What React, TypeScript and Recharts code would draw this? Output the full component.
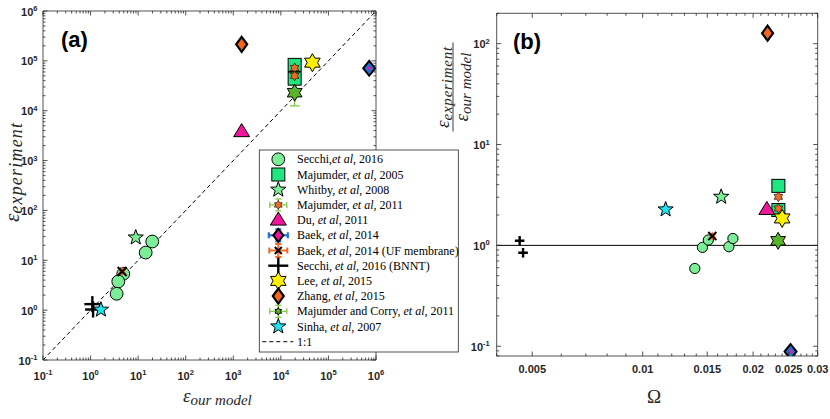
import React from 'react';
import { ScatterChart, Scatter, XAxis, YAxis, ReferenceLine, ErrorBar } from 'recharts';

// ---------- Panel (a): eps_experiment vs eps_our_model ----------
const secchiA = [{ x: 19.8, y: 23.8 }, { x: 14.4, y: 14.3 }, { x: 4.87, y: 5.36 }, { x: 3.82, y: 3.76 }, { x: 3.53, y: 2.13 }];
const majumder2005A = [{ x: 1.95e4, y: 8.3e4 }, { x: 1.95e4, y: 4.4e4 }];
const whitbyA = [{ x: 8.9, y: 28.6 }];
const majumder2011A = [{ x: 1.95e4, y: 7.2e4, ey: [2.2e4, 2.2e4] }, { x: 1.95e4, y: 5.0e4, ey: [1.5e4, 1.5e4] }];
const duA = [{ x: 1500, y: 3800 }];
const baekA = [{ x: 7.2e5, y: 7.1e4 }];
const baekUFA = [{ x: 4.6, y: 5.97 }];
const bnntA = [{ x: 1.09, y: 1.32 }, { x: 1.13, y: 1.03 }];
const leeA = [{ x: 4.6e4, y: 9.2e4 }];
const zhangA = [{ x: 1500, y: 2.15e5 }];
const corryA = [{ x: 1.95e4, y: 2.3e4, ey: [1.05e4, 1.0e4] }];
const sinhaA = [{ x: 1.65, y: 1.02 }];
const oneToOne = [{ x: 0.1, y: 0.1 }, { x: 1e6, y: 1e6 }];

// ---------- Panel (b): ratio vs Omega ----------
const secchiB = [{ x: 0.01455, y: 0.955 }, { x: 0.0151, y: 1.13 }, { x: 0.01387, y: 0.59 }, { x: 0.01718, y: 0.97 }, { x: 0.01762, y: 1.17 }];
const majumder2005B = [{ x: 0.02344, y: 3.89 }, { x: 0.02344, y: 2.24 }];
const whitbyB = [{ x: 0.01637, y: 3.03 }];
const majumder2011B = [{ x: 0.02344, y: 3.03 }, { x: 0.02344, y: 2.32 }];
const duB = [{ x: 0.0218, y: 2.27 }];
const baekB = [{ x: 0.0253, y: 0.0885 }];
const baekUFB = [{ x: 0.01548, y: 1.236 }];
const bnntB = [{ x: 0.00462, y: 1.11 }, { x: 0.00472, y: 0.845 }];
const leeB = [{ x: 0.024, y: 1.85 }];
const zhangB = [{ x: 0.0219, y: 127 }];
const corryB = [{ x: 0.0234, y: 1.11 }];
const sinhaB = [{ x: 0.01155, y: 2.27 }];

// ---------- ticks ----------
const decadesA = [0.1, 1, 10, 100, 1e3, 1e4, 1e5, 1e6];
const decadesBy = [0.1, 1, 10, 100];
const omegaMajor = [0.005, 0.01, 0.015, 0.02, 0.025, 0.03];
const omegaLabels = ['0.005', '0.01', '0.015', '0.02', '0.025', '0.03'];
const minorMult = [2, 3, 4, 5, 6, 7, 8, 9];

const logTicks = (decades: number[], lo: number, hi: number) => {
  const out: number[] = [];
  decades.forEach((d) => {
    out.push(d);
    minorMult.forEach((m) => out.push(d * m));
  });
  [decades[0] / 10].forEach((d) => minorMult.forEach((m) => out.push(d * m)));
  return out.filter((v) => v >= lo * 0.9999 && v <= hi * 1.0001).sort((a, b) => a - b);
};
const ticksA = logTicks(decadesA, 0.1, 1e6);
const ticksBy = logTicks(decadesBy, 0.08, 200);
const ticksBx = Array.from({ length: 27 }, (_, i) => (4 + i) / 1000);

const AX = '#262626';
const isDecade = (v: number) => Math.abs(Math.log10(v) - Math.round(Math.log10(v))) < 1e-6;
const isOmegaMajor = (v: number) => omegaMajor.some((m) => Math.abs(m - v) < 1e-7);

const SANS = "'Liberation Sans', Arial, sans-serif";
const SERIF = "'Liberation Serif', 'Times New Roman', serif";
const TF = { fontFamily: SANS, fontWeight: 700, fontSize: 11, fill: AX };

const powLabel = (v: number, x: number, y: number, anchor: 'middle' | 'end') => (
  <text x={x} y={y} textAnchor={anchor} {...TF}>
    <tspan>10</tspan>
    <tspan dy={-4.5} fontSize={7.5}>{String(Math.round(Math.log10(v)))}</tspan>
  </text>
);

const makeTick = (side: string, isMajor: (v: number) => boolean, labeler: ((v: number, x: number, y: number) => React.ReactNode) | null) =>
  (props: any) => {
    const { x, y, payload } = props;
    const v = payload.value;
    const major = isMajor(v);
    const len = major ? 4.5 : 2.5;
    let line;
    if (side === 'bottom') line = <line x1={x} y1={y} x2={x} y2={y - len} stroke={AX} strokeWidth={0.8} />;
    else if (side === 'top') line = <line x1={x} y1={y} x2={x} y2={y + len} stroke={AX} strokeWidth={0.8} />;
    else if (side === 'left') line = <line x1={x} y1={y} x2={x + len} y2={y} stroke={AX} strokeWidth={0.8} />;
    else line = <line x1={x} y1={y} x2={x - len} y2={y} stroke={AX} strokeWidth={0.8} />;
    return (
      <g>
        {line}
        {major && labeler ? labeler(v, x, y) : null}
      </g>
    );
  };

const tickABottom = makeTick('bottom', isDecade, (v, x, y) => powLabel(v, x, y + 19.5, 'middle'));
const tickATop = makeTick('top', isDecade, null);
const tickALeft = makeTick('left', isDecade, (v, x, y) => powLabel(v, x - 5.5, y + 4.5, 'end'));
const tickARight = makeTick('right', isDecade, null);
const tickBBottom = makeTick('bottom', isOmegaMajor, (v, x, y) => {
  const i = omegaMajor.findIndex((m) => Math.abs(m - v) < 1e-7);
  return <text x={x} y={y + 17} textAnchor="middle" {...TF}>{omegaLabels[i]}</text>;
});
const tickBTop = makeTick('top', isOmegaMajor, null);
const tickBLeft = makeTick('left', isDecade, (v, x, y) => powLabel(v, x - 7, y + 4.5, 'end'));
const tickBRight = makeTick('right', isDecade, null);

// ---------- markers ----------
const C = {
  lightGreen: '#7DEE98',
  green: '#1FE67F',
  orange: '#EE6A25',
  errGreen: '#7CC23E',
  magenta: '#F0169A',
  blue: '#1E74D4',
  yellow: '#FFF000',
  zhang: '#F2661E',
  corry: '#5AB42A',
  cyan: '#1EE3F0',
};

const starPts = (cx: number, cy: number, R: number, r: number, n: number) => {
  const pts: string[] = [];
  for (let i = 0; i < 2 * n; i++) {
    const a = (-90 + (i * 180) / n) * (Math.PI / 180);
    const rad = i % 2 === 0 ? R : r;
    pts.push(`${cx + rad * Math.cos(a)},${cy + rad * Math.sin(a)}`);
  }
  return pts.join(' ');
};

const marker = (kind: string, cx: number, cy: number, k = 1): React.ReactElement => {
  switch (kind) {
    case 'circle':
      return <circle cx={cx} cy={cy} r={6.4 * k} fill={C.lightGreen} stroke="#000" strokeWidth={1} />;
    case 'square': {
      const s = 6.5 * k;
      return <rect x={cx - s} y={cy - s} width={2 * s} height={2 * s} fill={C.green} stroke="#000" strokeWidth={1} />;
    }
    case 'whitby':
      return <polygon points={starPts(cx, cy, 8 * k, 3.3 * k, 5)} fill={C.lightGreen} stroke="#000" strokeWidth={1} />;
    case 'm2011':
      return <polygon points={starPts(cx, cy, 5 * k, 2.9 * k, 6)} fill={C.orange} stroke="#000" strokeWidth={0.6} />;
    case 'du': {
      const w = 8 * k, h = 13 * k;
      return <polygon points={`${cx - w},${cy + h / 2.6} ${cx + w},${cy + h / 2.6} ${cx},${cy - h * 0.62}`} fill={C.magenta} stroke="#000" strokeWidth={1} />;
    }
    case 'baek': {
      const w = 6 * k, h = 7.5 * k;
      return (
        <g>
          <polygon points={`${cx},${cy - h} ${cx + w},${cy} ${cx},${cy + h} ${cx - w},${cy}`} fill={C.blue} stroke="#000" strokeWidth={2} />
          <polygon points={`${cx},${cy - 2.5} ${cx + 2},${cy} ${cx},${cy + 2.5} ${cx - 2},${cy}`} fill={C.magenta} />
        </g>
      );
    }
    case 'baekUF': {
      const s = 4.5 * k;
      return (
        <g>
          <polygon points={starPts(cx, cy, 5 * k, 2.9 * k, 6)} fill={C.orange} />
          <line x1={cx - s} y1={cy - s} x2={cx + s} y2={cy + s} stroke="#000" strokeWidth={2} />
          <line x1={cx - s} y1={cy + s} x2={cx + s} y2={cy - s} stroke="#000" strokeWidth={2} />
        </g>
      );
    }
    case 'bnnt': {
      const s = 8 * k;
      return (
        <g>
          <line x1={cx - s} y1={cy} x2={cx + s} y2={cy} stroke="#000" strokeWidth={2.4} />
          <line x1={cx} y1={cy - s} x2={cx} y2={cy + s} stroke="#000" strokeWidth={2.4} />
        </g>
      );
    }
    case 'lee':
      return <polygon points={starPts(cx, cy, 9 * k, 5.2 * k, 6)} fill={C.yellow} stroke="#000" strokeWidth={1} />;
    case 'zhang': {
      const w = 5.5 * k, h = 7.5 * k;
      return <polygon points={`${cx},${cy - h} ${cx + w},${cy} ${cx},${cy + h} ${cx - w},${cy}`} fill={C.zhang} stroke="#000" strokeWidth={2.2} />;
    }
    case 'corry':
      return <polygon points={starPts(cx, cy, 8.5 * k, 4.9 * k, 6)} fill={C.corry} stroke="#000" strokeWidth={1} />;
    case 'sinha':
      return <polygon points={starPts(cx, cy, 8 * k, 3.3 * k, 5)} fill={C.cyan} stroke="#000" strokeWidth={1} />;
    default:
      return <g />;
  }
};

const shape = (kind: string, k = 1) => (p: any) => marker(kind, p.cx, p.cy, k);

const axisLine = { stroke: AX, strokeWidth: 0.8 };
const commonAxis = {
  type: 'number' as const,
  scale: 'log' as const,
  allowDataOverflow: true,
  interval: 0 as const,
  tickSize: 0,
  tickMargin: 0,
  tickLine: false,
  axisLine,
};

// ---------- legend ----------
const legendItems: { kind: string; parts: [string, string, string] }[] = [
  { kind: 'circle', parts: ['Secchi,', 'et al', ', 2016'] },
  { kind: 'square', parts: ['Majumder, ', 'et al', ', 2005'] },
  { kind: 'whitby', parts: ['Whitby, ', 'et al', ', 2008'] },
  { kind: 'Lm2011', parts: ['Majumder, ', 'et al', ', 2011'] },
  { kind: 'du', parts: ['Du, ', 'et al', ', 2011'] },
  { kind: 'Lbaek', parts: ['Baek, ', 'et al', ', 2014'] },
  { kind: 'LbaekUF', parts: ['Baek, ', 'et al', ', 2014 (UF membrane)'] },
  { kind: 'Lbnnt', parts: ['Secchi, ', 'et al', ', 2016 (BNNT)'] },
  { kind: 'lee', parts: ['Lee, ', 'et al', ', 2015'] },
  { kind: 'zhang', parts: ['Zhang, ', 'et al', ', 2015'] },
  { kind: 'Lcorry', parts: ['Majumder and Corry, ', 'et al', ', 2011'] },
  { kind: 'sinha', parts: ['Sinha, ', 'et al', ', 2007'] },
  { kind: 'line', parts: ['1:1', '', ''] },
];

const errCross = (cx: number, cy: number, hw: number, hh: number, color: string, sw: number) => (
  <g stroke={color} strokeWidth={sw}>
    <line x1={cx - hw} y1={cy} x2={cx + hw} y2={cy} />
    <line x1={cx - hw} y1={cy - 3} x2={cx - hw} y2={cy + 3} />
    <line x1={cx + hw} y1={cy - 3} x2={cx + hw} y2={cy + 3} />
    <line x1={cx} y1={cy - hh} x2={cx} y2={cy + hh} />
    <line x1={cx - 3} y1={cy - hh} x2={cx + 3} y2={cy - hh} />
    <line x1={cx - 3} y1={cy + hh} x2={cx + 3} y2={cy + hh} />
  </g>
);

const legendMarker = (kind: string, cx: number, cy: number) => {
  switch (kind) {
    case 'Lm2011':
      return <g>{errCross(cx, cy, 8.5, 6, C.errGreen, 1.2)}{marker('m2011', cx, cy, 0.9)}</g>;
    case 'Lbaek':
      return (
        <g>
          {errCross(cx, cy, 9.5, 6, C.blue, 2.2)}
          <polygon points={`${cx},${cy - 6.5} ${cx + 5},${cy} ${cx},${cy + 6.5} ${cx - 5},${cy}`} fill={C.magenta} stroke="#000" strokeWidth={2} />
        </g>
      );
    case 'LbaekUF':
      return (
        <g>
          {errCross(cx, cy, 9, 6.5, C.orange, 2)}
          <line x1={cx - 3.5} y1={cy - 3.5} x2={cx + 3.5} y2={cy + 3.5} stroke="#000" strokeWidth={2} />
          <line x1={cx - 3.5} y1={cy + 3.5} x2={cx + 3.5} y2={cy - 3.5} stroke="#000" strokeWidth={2} />
        </g>
      );
    case 'Lbnnt':
      return (
        <g>
          <line x1={cx - 10} y1={cy} x2={cx + 10} y2={cy} stroke="#000" strokeWidth={2.4} />
          <line x1={cx} y1={cy - 8} x2={cx} y2={cy + 8} stroke="#000" strokeWidth={2.4} />
        </g>
      );
    case 'Lcorry':
      return <g>{errCross(cx, cy, 8.5, 6, C.errGreen, 1.2)}{marker('corry', cx, cy, 0.45)}</g>;
    case 'line':
      return <line x1={cx - 16} y1={cy} x2={cx + 15} y2={cy} stroke="#000" strokeWidth={1} strokeDasharray="4 3" />;
    default:
      return marker(kind, cx, cy, 1);
  }
};

export default function App() {
  return (
    <div style={{ position: 'absolute', left: 0, top: 0, width: 830, height: 419, background: '#fff' }}>
      <div style={{ position: 'absolute', left: 0, top: 0 }}>
        <ScatterChart width={415} height={419} margin={{ top: 10, right: 38, bottom: 29, left: 0 }}>
          <XAxis xAxisId="b" dataKey="x" orientation="bottom" domain={[0.1, 1e6]} ticks={ticksA} tick={tickABottom} height={30} {...commonAxis} />
          <XAxis xAxisId="t" dataKey="x" orientation="top" domain={[0.1, 1e6]} ticks={ticksA} tick={tickATop} height={1} {...commonAxis} />
          <YAxis yAxisId="l" dataKey="y" orientation="left" domain={[0.1, 1e6]} ticks={ticksA} tick={tickALeft} width={43} {...commonAxis} />
          <YAxis yAxisId="r" dataKey="y" orientation="right" domain={[0.1, 1e6]} ticks={ticksA} tick={tickARight} width={1} {...commonAxis} />
          <Scatter xAxisId="b" yAxisId="l" data={secchiA} shape={shape('circle')} isAnimationActive={false} />
          <Scatter xAxisId="b" yAxisId="l" data={majumder2005A} shape={shape('square')} isAnimationActive={false} />
          <Scatter xAxisId="b" yAxisId="l" data={whitbyA} shape={shape('whitby')} isAnimationActive={false} />
          <Scatter xAxisId="b" yAxisId="l" data={majumder2011A} shape={shape('m2011')} isAnimationActive={false}>
            <ErrorBar dataKey="ey" direction="y" width={5} stroke={C.errGreen} strokeWidth={1.2} />
          </Scatter>
          <Scatter xAxisId="b" yAxisId="l" data={duA} shape={shape('du')} isAnimationActive={false} />
          <Scatter xAxisId="b" yAxisId="l" data={baekA} shape={shape('baek')} isAnimationActive={false} />
          <Scatter xAxisId="b" yAxisId="l" data={baekUFA} shape={shape('baekUF')} isAnimationActive={false} />
          <Scatter xAxisId="b" yAxisId="l" data={bnntA} shape={shape('bnnt')} isAnimationActive={false} />
          <Scatter xAxisId="b" yAxisId="l" data={leeA} shape={shape('lee')} isAnimationActive={false} />
          <Scatter xAxisId="b" yAxisId="l" data={zhangA} shape={shape('zhang')} isAnimationActive={false} />
          <Scatter xAxisId="b" yAxisId="l" data={corryA} shape={shape('corry')} isAnimationActive={false}>
            <ErrorBar dataKey="ey" direction="y" width={5} stroke={C.errGreen} strokeWidth={1.2} />
          </Scatter>
          <Scatter xAxisId="b" yAxisId="l" data={sinhaA} shape={shape('sinha')} isAnimationActive={false} />
          <ReferenceLine xAxisId="b" yAxisId="l" segment={oneToOne} stroke="#000" strokeWidth={1} strokeDasharray="4 3" ifOverflow="visible" />
        </ScatterChart>
      </div>
      <div style={{ position: 'absolute', left: 415, top: 0 }}>
        <ScatterChart width={415} height={419} margin={{ top: 12.3, right: 11.3, bottom: 33, left: 0 }}>
          <XAxis xAxisId="b" dataKey="x" orientation="bottom" domain={[0.004, 0.03]} ticks={ticksBx} tick={tickBBottom} height={30} {...commonAxis} />
          <XAxis xAxisId="t" dataKey="x" orientation="top" domain={[0.004, 0.03]} ticks={ticksBx} tick={tickBTop} height={1} {...commonAxis} />
          <YAxis yAxisId="l" dataKey="y" orientation="left" domain={[0.08, 200]} ticks={ticksBy} tick={tickBLeft} width={81.7} {...commonAxis} />
          <YAxis yAxisId="r" dataKey="y" orientation="right" domain={[0.08, 200]} ticks={ticksBy} tick={tickBRight} width={1} {...commonAxis} />
          <ReferenceLine xAxisId="b" yAxisId="l" y={1} stroke="#000" strokeWidth={1} />
          <Scatter xAxisId="b" yAxisId="l" data={secchiB} shape={shape('circle', 0.8)} isAnimationActive={false} />
          <Scatter xAxisId="b" yAxisId="l" data={majumder2005B} shape={shape('square')} isAnimationActive={false} />
          <Scatter xAxisId="b" yAxisId="l" data={whitbyB} shape={shape('whitby')} isAnimationActive={false} />
          <Scatter xAxisId="b" yAxisId="l" data={majumder2011B} shape={shape('m2011')} isAnimationActive={false} />
          <Scatter xAxisId="b" yAxisId="l" data={duB} shape={shape('du')} isAnimationActive={false} />
          <Scatter xAxisId="b" yAxisId="l" data={baekB} shape={shape('baek')} isAnimationActive={false} />
          <Scatter xAxisId="b" yAxisId="l" data={baekUFB} shape={shape('baekUF', 0.9)} isAnimationActive={false} />
          <Scatter xAxisId="b" yAxisId="l" data={bnntB} shape={shape('bnnt', 0.6)} isAnimationActive={false} />
          <Scatter xAxisId="b" yAxisId="l" data={leeB} shape={shape('lee')} isAnimationActive={false} />
          <Scatter xAxisId="b" yAxisId="l" data={zhangB} shape={shape('zhang')} isAnimationActive={false} />
          <Scatter xAxisId="b" yAxisId="l" data={corryB} shape={shape('corry')} isAnimationActive={false} />
          <Scatter xAxisId="b" yAxisId="l" data={sinhaB} shape={shape('sinha')} isAnimationActive={false} />
        </ScatterChart>
      </div>
      <svg width={830} height={419} style={{ position: 'absolute', left: 0, top: 0, pointerEvents: 'none' }}>
        <text x={61} y={47} fontFamily={SANS} fontWeight={700} fontSize={22} fill="#000">(a)</text>
        <text x={513} y={49} fontFamily={SANS} fontWeight={700} fontSize={22} fill="#000">(b)</text>
        {/* y label (a) */}
        <text transform="translate(19,222) rotate(-90)" fontFamily={SERIF} fontStyle="italic" fill={AX}>
          <tspan fontSize={21}>ε</tspan>
          <tspan fontSize={18} dy={2.5} letterSpacing={1.2}>experiment</tspan>
        </text>
        {/* x label (a) */}
        <text x={183} y={402} fontFamily={SERIF} fontStyle="italic" fill={AX}>
          <tspan fontSize={19}>ε</tspan>
          <tspan fontSize={15} dy={3}>our model</tspan>
        </text>
        {/* y label (b) fraction */}
        <g transform="translate(453,87) rotate(-90)" fontFamily={SERIF} fontStyle="italic" fill={AX}>
          <text x={0} y={-4} textAnchor="middle">
            <tspan fontSize={19}>ε</tspan>
            <tspan fontSize={15} dy={2.5} letterSpacing={0.8}>experiment</tspan>
          </text>
          <line x1={-44.5} y1={0} x2={44.5} y2={0} stroke={AX} strokeWidth={0.9} />
          <text x={0} y={15} textAnchor="middle">
            <tspan fontSize={19}>ε</tspan>
            <tspan fontSize={15} dy={2.5}>our model</tspan>
          </text>
        </g>
        {/* x label (b) */}
        <text x={654} y={403} textAnchor="middle" fontFamily={SERIF} fontSize={19} fill={AX}>Ω</text>
        {/* legend */}
        <rect x={259.3} y={150} width={199} height={202} fill="#fff" stroke={AX} strokeWidth={0.8} />
        {legendItems.map((it, i) => {
          const cy = 159.3 + i * 15.2;
          return (
            <g key={i}>
              {legendMarker(it.kind, 278.3, cy)}
              <text x={297} y={cy + 4} fontFamily={SERIF} fontSize={12} fill="#000">
                <tspan>{it.parts[0]}</tspan>
                {it.parts[1] ? <tspan fontStyle="italic">{it.parts[1]}</tspan> : null}
                {it.parts[2] ? <tspan>{it.parts[2]}</tspan> : null}
              </text>
            </g>
          );
        })}
      </svg>
    </div>
  );
}
